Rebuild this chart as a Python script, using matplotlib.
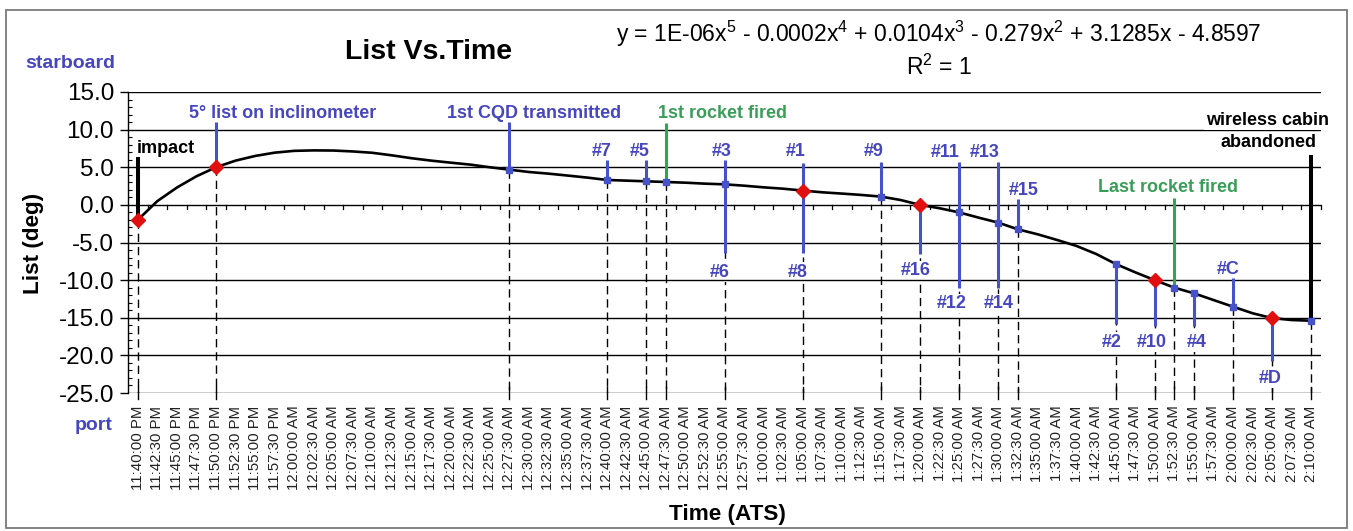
import matplotlib
matplotlib.use("Agg")
import matplotlib.pyplot as plt
from matplotlib.ticker import MultipleLocator, FuncFormatter
from matplotlib.patches import Rectangle

plt.rcParams['font.family'] = ['Liberation Sans', 'DejaVu Sans']
plt.rcParams['mathtext.default'] = 'regular'

# ---------------- data ----------------
time_labels = [
    "11:40:00 PM", "11:42:30 PM", "11:45:00 PM", "11:47:30 PM", "11:50:00 PM",
    "11:52:30 PM", "11:55:00 PM", "11:57:30 PM",
    "12:00:00 AM", "12:02:30 AM", "12:05:00 AM", "12:07:30 AM", "12:10:00 AM",
    "12:12:30 AM", "12:15:00 AM", "12:17:30 AM", "12:20:00 AM", "12:22:30 AM",
    "12:25:00 AM", "12:27:30 AM", "12:30:00 AM", "12:32:30 AM", "12:35:00 AM",
    "12:37:30 AM", "12:40:00 AM", "12:42:30 AM", "12:45:00 AM", "12:47:30 AM",
    "12:50:00 AM", "12:52:30 AM", "12:55:00 AM", "12:57:30 AM",
    "1:00:00 AM", "1:02:30 AM", "1:05:00 AM", "1:07:30 AM", "1:10:00 AM",
    "1:12:30 AM", "1:15:00 AM", "1:17:30 AM", "1:20:00 AM", "1:22:30 AM",
    "1:25:00 AM", "1:27:30 AM", "1:30:00 AM", "1:32:30 AM", "1:35:00 AM",
    "1:37:30 AM", "1:40:00 AM", "1:42:30 AM", "1:45:00 AM", "1:47:30 AM",
    "1:50:00 AM", "1:52:30 AM", "1:55:00 AM", "1:57:30 AM",
    "2:00:00 AM", "2:02:30 AM", "2:05:00 AM", "2:07:30 AM", "2:10:00 AM",
]
# minutes after 11:40 PM for each label
time_minutes = [0, 2.5, 5, 7.5, 10, 12.5, 15, 17.5, 20, 22.5, 25, 27.5, 30, 32.5,
                35, 37.5, 40, 42.5, 45, 47.5, 50, 52.5, 55, 57.5, 60, 62.5, 65,
                67.5, 70, 72.5, 75, 77.5, 80, 82.5, 85, 87.5, 90, 92.5, 95, 97.5,
                100, 102.5, 105, 107.5, 110, 112.5, 115, 117.5, 120, 122.5, 125,
                127.5, 130, 132.5, 135, 137.5, 140, 142.5, 145, 147.5, 150]
# list (deg) at each time
list_curve = [-2.0, 0.5, 2.3, 3.8, 5.0, 5.88, 6.5, 6.94, 7.18, 7.24, 7.22, 7.1,
              6.92, 6.58, 6.2, 5.88, 5.61, 5.35, 5.0, 4.68, 4.37, 4.15, 3.89,
              3.62, 3.31, 3.22, 3.13, 3.04, 2.95, 2.82, 2.73, 2.55, 2.33, 2.15,
              1.9, 1.67, 1.5, 1.32, 1.1, 0.65, 0.0, -0.45, -1.0, -1.7, -2.36,
              -3.25, -3.9, -4.66, -5.46, -6.52, -7.85, -8.96, -10.0, -11.0,
              -11.75, -12.64, -13.53, -14.4, -15.05, -15.3, -15.4]

# red diamond points
key_minutes = [0, 10, 85, 100, 130, 145]
key_list = [-2.0, 5.0, 1.9, 0.0, -10.0, -15.0]

# small blue square points
mark_minutes = [47.5, 60, 65, 67.5, 75, 95, 105, 110, 112.5, 125, 132.5, 135, 140, 150]
mark_list = [4.68, 3.31, 3.13, 3.04, 2.73, 1.1, -1.0, -2.36, -3.25, -7.85, -11.0, -11.75, -13.53, -15.4]

# event bars: time, low, high, kind
bar_minutes = [0, 10, 47.5, 67.5, 60, 65, 75, 85, 95, 100, 105, 110, 112.5,
               125, 130, 132.5, 135, 140, 145, 150]
bar_low = [-2.0, 5.0, 4.68, 3.04, 3.31, 3.13, -6.4, -6.4, 1.1, -6.5, -11.1,
           -11.1, -3.25, -15.8, -16.05, -11.0, -16.1, -13.53, -20.8, -15.4]
bar_high = [6.4, 11.0, 11.0, 10.9, 6.0, 6.0, 5.9, 5.6, 5.7, 0.0, 5.7, 5.7,
            0.75, -7.85, -10.0, 0.88, -11.75, -9.76, -15.05, 6.6]
bar_kind = ["black", "blue", "blue", "green", "blue", "blue", "blue", "blue",
            "blue", "blue", "blue", "blue", "blue", "blue", "blue", "green",
            "blue", "blue", "blue", "black"]

# drop lines (dashed) from the curve down to the bottom
drop_minutes = [0, 10, 47.5, 60, 65, 67.5, 75, 85, 95, 100, 105, 110, 112.5,
                125, 130, 132.5, 135, 140, 145, 150]
drop_top = [-2.0, 5.0, 4.68, 3.31, 3.13, 3.04, 2.73, 1.9, 1.1, 0.0, -1.0,
            -2.36, -3.25, -7.85, -10.0, -11.0, -11.75, -13.53, -15.05, -15.4]

# annotation texts: text, x (min), y baseline (deg), kind
ann_text = ["impact", "5° list on inclinometer", "1st CQD transmitted",
            "1st rocket fired", "#7", "#5", "#3", "#1", "#9", "#11", "#13",
            "#15", "wireless cabin", "abandoned", "Last rocket fired",
            "#6", "#8", "#16", "#12", "#14", "#C", "#2", "#10", "#4", "#D"]
ann_x = [-0.1, 18.5, 50.7, 74.7, 59.3, 64.1, 74.7, 84.1, 94.1, 103.2, 108.2,
         113.3, 144.4, 144.5, 131.7, 74.4, 84.3, 99.5, 104.0, 110.0, 139.4,
         124.5, 129.6, 135.4, 144.8]
ann_y = [6.94, 11.51, 11.6, 11.6, 6.5, 6.5, 6.5, 6.5, 6.5, 6.41, 6.41, 1.32,
         10.62, 7.73, 1.71, -9.54, -9.54, -9.38, -13.7, -13.7, -9.12, -18.84,
         -18.84, -18.84, -23.67]
ann_kind = ["black", "blue", "blue", "green", "blue", "blue", "blue", "blue",
            "blue", "blue", "blue", "blue", "black", "black", "green", "blue",
            "blue", "blue", "blue", "blue", "blue", "blue", "blue", "blue", "blue"]

y_ticks = [-25, -20, -15, -10, -5, 0, 5, 10, 15]

# ---------------- style ----------------
text_col = {"black": "#000000", "blue": "#4646BE", "green": "#3A9E58"}
line_col = {"black": "#000000", "blue": "#4652C8", "green": "#2FA84A"}
line_w = {"black": 2.9, "blue": 2.2, "green": 2.2}

W, H = 1353, 531
fig = plt.figure(figsize=(W / 100, H / 100), dpi=100)
fig.patch.set_facecolor("white")
fig.add_artist(Rectangle((6 / W, 1 - 528 / H), (1347 - 6) / W, (528 - 10) / H,
                         transform=fig.transFigure, fill=False,
                         edgecolor="#7a7a7a", linewidth=1.3))

ax = fig.add_axes([128 / W, 1 - 393 / H, (1321 - 128) / W, (393 - 92) / H])
ax.set_xlim(-1.25, 151.25)
ax.set_ylim(-25, 15)
for s in ["top", "right", "bottom"]:
    ax.spines[s].set_visible(False)
ax.spines["left"].set_linewidth(1.0)

# horizontal gridlines (above the label backgrounds)
for yv in y_ticks:
    ax.axhline(yv, color="black", lw=1.0, zorder=3.5)

# category-boundary tick marks on the zero line
for k in range(len(time_minutes)):
    xb = time_minutes[k] + 1.25
    ax.plot([xb, xb], [0, -0.55], color="black", lw=0.9, zorder=3.5, clip_on=False)

# dashed drop lines
for t, top in zip(drop_minutes, drop_top):
    ax.plot([t, t], [top, -25], color="black", lw=1.0, dashes=(6, 3.5), zorder=2)
    ax.plot([t, t], [-24.2, -25.8], color="black", lw=1.0, zorder=2, clip_on=False)

# curve
ax.plot(time_minutes, list_curve, color="black", lw=1.9, zorder=3.6,
        solid_joinstyle="round")

# annotation labels
for txt, x, y, kd in zip(ann_text, ann_x, ann_y, ann_kind):
    on_top = txt in ("wireless cabin", "abandoned")
    ax.text(x, y, txt, color=text_col[kd], fontsize=13, fontweight="bold",
            ha="left" if txt == "impact" else "center", va="baseline",
            zorder=4.2 if on_top else 2.5,
            bbox=dict(facecolor="white", edgecolor="none", pad=1.0),
            clip_on=False)

# event bars
for t, lo, hi, kd in zip(bar_minutes, bar_low, bar_high, bar_kind):
    ax.plot([t, t], [lo, hi], color=line_col[kd], lw=line_w[kd], zorder=5,
            solid_capstyle="butt")

# markers
ax.plot(mark_minutes, mark_list, ls="none", marker="s", ms=4, color="#4652C8",
        zorder=6)
ax.plot(key_minutes, key_list, ls="none", marker="D", ms=7.5, color="#E01010",
        zorder=7)

# axes ticks
ax.set_yticks(y_ticks)
ax.yaxis.set_major_formatter(FuncFormatter(lambda v, p: f"{v:.1f}"))
ax.yaxis.set_minor_locator(MultipleLocator(1))
ax.tick_params(axis="y", which="major", direction="out", length=6, width=1.0,
               labelsize=17.5, pad=4)
ax.tick_params(axis="y", which="minor", direction="in", length=3, width=0.8)
ax.set_xticks(time_minutes)
ax.set_xticklabels(time_labels, rotation=90, fontsize=10.8, color="#222222")
ax.tick_params(axis="x", length=0, pad=9)

# titles & labels
fig.text(429 / W, 1 - 59 / H, "List Vs.Time", fontsize=20.5, fontweight="bold",
         ha="center", va="baseline")
fig.text(939 / W, 1 - 41.7 / H,
         r"y = 1E-06x$^{5}$ - 0.0002x$^{4}$ + 0.0104x$^{3}$ - 0.279x$^{2}$ + 3.1285x - 4.8597",
         fontsize=16.5, ha="center", va="baseline")
fig.text(939 / W, 1 - 75 / H, r"R$^{2}$ = 1", fontsize=16.5, ha="center",
         va="baseline")
fig.text(70 / W, 1 - 68 / H, "starboard", fontsize=14, fontweight="bold",
         color=text_col["blue"], ha="center", va="baseline")
fig.text(94 / W, 1 - 430 / H, "port", fontsize=14, fontweight="bold",
         color=text_col["blue"], ha="center", va="baseline")
fig.text(727 / W, 1 - 520 / H, "Time (ATS)", fontsize=16.2, fontweight="bold",
         ha="center", va="baseline")
fig.text(33 / W, 1 - 243 / H, "List (deg)", fontsize=16.2, fontweight="bold",
         ha="center", va="center", rotation=90)

fig.savefig("out.png", dpi=100)
